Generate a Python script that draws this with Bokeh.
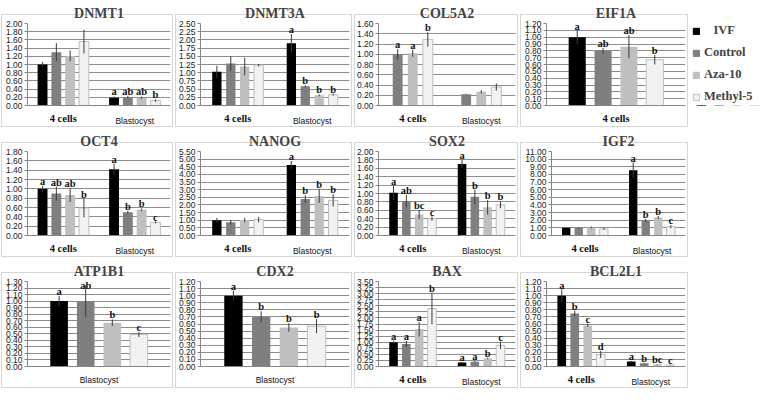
import numpy as np
from bokeh.plotting import figure
from bokeh.models import (FactorRange, Range1d, FixedTicker, NumeralTickFormatter,
                          CategoricalAxis, Legend, LegendItem, ColumnDataSource)
from bokeh.transform import dodge
from bokeh.layouts import row, column
from bokeh.core.properties import value
from bokeh.embed import file_html
from bokeh.resources import INLINE

SERIES = ["IVF", "Control", "Aza-10", "Methyl-5"]
LEG_LABELS = ["\u00a0\u00a0\u00a0IVF", "Control", "Aza-10", "Methyl-5"]
COLORS = ["#000000", "#7f7f7f", "#bfbfbf", "#f2f2f2"]
OUTLINES = [None, None, None, "#bdbdbd"]
CATS_BOTH = ["4 cells", "Blastocyst"]

# ---- data (means, error, significance letters) per gene and stage ----
DNMT1_4C = [1.00, 1.30, 1.21, 1.56]
DNMT1_4C_ERR = [0.06, 0.22, 0.13, 0.29]
DNMT1_4C_LET = ["", "", "", ""]
DNMT1_BL = [0.19, 0.20, 0.19, 0.12]
DNMT1_BL_ERR = [0.03, 0.03, 0.03, 0.03]
DNMT1_BL_LET = ["a", "ab", "ab", "b"]

DNMT3A_4C = [1.03, 1.28, 1.19, 1.23]
DNMT3A_4C_ERR = [0.18, 0.22, 0.27, 0.04]
DNMT3A_4C_LET = ["", "", "", ""]
DNMT3A_BL = [1.90, 0.59, 0.31, 0.33]
DNMT3A_BL_ERR = [0.28, 0.03, 0.03, 0.03]
DNMT3A_BL_LET = ["a", "b", "b", "b"]

COL5A2_4C = [1.00, 1.02, 1.29]           # Control, Aza-10, Methyl-5
COL5A2_4C_ERR = [0.10, 0.07, 0.14]
COL5A2_4C_LET = ["a", "a", "b"]
COL5A2_BL = [0.22, 0.27, 0.36]
COL5A2_BL_ERR = [0.01, 0.03, 0.07]
COL5A2_BL_LET = ["", "", ""]

EIF1A_4C = [1.00, 0.80, 0.86, 0.67]
EIF1A_4C_ERR = [0.10, 0.04, 0.17, 0.07]
EIF1A_4C_LET = ["a", "ab", "ab", "b"]

OCT4_4C = [1.00, 0.90, 0.87, 0.59]
OCT4_4C_ERR = [0.06, 0.15, 0.15, 0.20]
OCT4_4C_LET = ["a", "ab", "ab", "b"]
OCT4_BL = [1.42, 0.50, 0.55, 0.28]
OCT4_BL_ERR = [0.12, 0.03, 0.03, 0.02]
OCT4_BL_LET = ["a", "b", "b", "c"]

NANOG_4C = [1.00, 0.87, 1.01, 1.04]
NANOG_4C_ERR = [0.15, 0.15, 0.15, 0.18]
NANOG_4C_LET = ["", "", "", ""]
NANOG_BL = [4.61, 2.39, 2.58, 2.30]
NANOG_BL_ERR = [0.27, 0.25, 0.45, 0.40]
NANOG_BL_LET = ["a", "b", "b", "b"]

SOX2_4C = [1.02, 0.82, 0.50, 0.40]
SOX2_4C_ERR = [0.17, 0.15, 0.11, 0.05]
SOX2_4C_LET = ["a", "ab", "bc", "c"]
SOX2_BL = [1.70, 0.92, 0.67, 0.73]
SOX2_BL_ERR = [0.10, 0.17, 0.17, 0.08]
SOX2_BL_LET = ["a", "b", "b", "b"]

IGF2_4C = [1.00, 1.00, 1.05, 0.85]
IGF2_4C_ERR = [0.05, 0.08, 0.12, 0.12]
IGF2_4C_LET = ["", "", "", ""]
IGF2_BL = [8.55, 1.96, 2.35, 1.15]
IGF2_BL_ERR = [1.00, 0.20, 0.20, 0.20]
IGF2_BL_LET = ["a", "b", "b", "c"]

ATP1B1_BL = [1.00, 1.00, 0.67, 0.49]
ATP1B1_BL_ERR = [0.08, 0.24, 0.05, 0.04]
ATP1B1_BL_LET = ["a", "ab", "b", "c"]

CDX2_BL = [1.00, 0.70, 0.55, 0.57]
CDX2_BL_ERR = [0.07, 0.08, 0.06, 0.10]
CDX2_BL_LET = ["a", "b", "b", "b"]

BAX_4C = [1.00, 0.93, 1.54, 2.39]
BAX_4C_ERR = [0.06, 0.12, 0.30, 0.65]
BAX_4C_LET = ["a", "a", "a", "b"]
BAX_BL = [0.16, 0.20, 0.33, 0.87]
BAX_BL_ERR = [0.02, 0.03, 0.03, 0.15]
BAX_BL_LET = ["a", "a", "b", "c"]

BCL2L1_4C = [1.00, 0.75, 0.58, 0.17]
BCL2L1_4C_ERR = [0.09, 0.04, 0.02, 0.05]
BCL2L1_4C_LET = ["a", "b", "c", "d"]
BCL2L1_BL = [0.07, 0.045, 0.03, 0.02]
BCL2L1_BL_ERR = [0.01, 0.005, 0.005, 0.005]
BCL2L1_BL_LET = ["a", "b", "bc", "c"]

# y-axis scales (max, step)
Y_AXES = {
    "DNMT1": (2.0, 0.2), "DNMT3A": (2.5, 0.25), "COL5A2": (1.6, 0.2), "EIF1A": (1.2, 0.1),
    "OCT4": (1.8, 0.2), "NANOG": (5.5, 0.5), "SOX2": (2.0, 0.2), "IGF2": (11.0, 1.0),
    "ATP1B1": (1.3, 0.1), "CDX2": (1.2, 0.1), "BAX": (3.5, 0.25), "BCL2L1": (1.2, 0.1),
}

# font, style, size, standoff when it is the first (lined) axis
CAT_FONT = {"4 cells": ("Liberation Serif", "bold", "10.5px", 7),
            "Blastocyst": ("Liberation Sans", "normal", "8.5px", 8)}

GRID = "#8c8c8c"
AXIS = "#868686"
BOX = "#d6d6d6"


def box_styles(bw, h):
    g = f"linear-gradient({BOX},{BOX})"
    return {
        "background-image": ", ".join([g] * 4),
        "background-size": f"{bw - 2}px 1px, {bw - 2}px 1px, 1px {h - 16}px, 1px {h - 16}px",
        "background-position": f"1px 14px, 1px {h - 2}px, 1px 14px, {bw - 2}px 14px",
        "background-repeat": "no-repeat",
    }


def stage_axis(p, name, factors, line, standoff, font, style, size):
    p.extra_x_ranges[name] = FactorRange(*factors)
    ax = CategoricalAxis(x_range_name=name)
    ax.major_label_text_font = font
    ax.major_label_text_font_style = style
    ax.major_label_text_font_size = size
    ax.major_label_text_color = "#111111"
    ax.major_tick_line_color = None
    ax.minor_tick_line_color = None
    ax.major_tick_out = 0
    ax.major_tick_in = 0
    ax.minor_tick_out = 0
    ax.minor_tick_in = 0
    ax.axis_line_color = AXIS if line else None
    ax.major_label_standoff = standoff
    p.add_layout(ax, "below")
    return ax


def make_panel(title, cats, series_idx, means, errs, lets, width, height,
               bar_w, spacing, left):
    ymax, ystep = Y_AXES[title]
    p = figure(width=width, height=height, title=title,
               x_range=FactorRange(*cats), y_range=Range1d(0, ymax),
               output_backend="svg", toolbar_location=None, x_axis_location=None,
               min_border_left=left, min_border_right=4, min_border_top=20,
               min_border_bottom=17, styles=box_styles(width, height))
    p.border_fill_color = None
    p.background_fill_color = None
    p.title.align = "center"
    p.title.text_font = "Liberation Serif"
    p.title.text_font_style = "bold"
    p.title.text_font_size = "14px"
    p.title.standoff = 6
    p.title.offset = 0
    n = len(series_idx)
    for j, k in enumerate(series_idx):
        off = (j - (n - 1) / 2) * spacing
        m = [means[c][j] for c in range(len(cats))]
        e = [errs[c][j] for c in range(len(cats))]
        l = [lets[c][j] for c in range(len(cats))]
        hi = [a + b for a, b in zip(m, e)]
        src = ColumnDataSource(dict(x=cats, top=m,
                                    lo=[a - b for a, b in zip(m, e)],
                                    hi=hi, ly=[min(h, ymax * 0.905) for h in hi], lab=l))
        xd = dodge("x", off, range=p.x_range)
        p.vbar(x=xd, top="top", width=bar_w, source=src, fill_color=COLORS[k],
               line_color=OUTLINES[k], line_width=1)
        p.segment(x0=xd, y0="lo", x1=xd, y1="hi", source=src,
                  line_color="#3a3a3a", line_width=1)
        p.text(x=xd, y="ly", text="lab", source=src, text_align="center",
               text_baseline="bottom", y_offset=1,
               text_font=value("Liberation Serif"), text_font_style="bold",
               text_font_size="10.5px", text_color="#111111")
    ticks = [round(v, 3) for v in np.arange(0, ymax + ystep / 2, ystep)]
    p.yaxis.ticker = FixedTicker(ticks=ticks)
    p.yaxis.formatter = NumeralTickFormatter(format="0.00")
    p.yaxis.major_label_text_font = "Liberation Sans"
    p.yaxis.major_label_text_font_size = "8.5px"
    p.yaxis.major_label_text_color = "#1a1a1a"
    p.yaxis.major_label_standoff = 2
    p.yaxis.major_tick_out = 3
    p.yaxis.major_tick_in = 0
    p.yaxis.minor_tick_line_color = None
    p.yaxis.axis_line_color = AXIS
    p.yaxis.major_tick_line_color = AXIS
    p.ygrid.grid_line_color = GRID
    p.xgrid.grid_line_color = None
    p.outline_line_color = None

    # one category axis per stage (same slots, other slots blank) so each
    # stage label keeps its own font; a final blank spacer axis pulls the
    # bottom border back to min_border_bottom
    blanks = [" " * (i + 1) for i in range(len(cats))]
    for i, c in enumerate(cats):
        f, s, z, so = CAT_FONT[c]
        facs = [c if j == i else blanks[j] for j in range(len(cats))]
        if i == 0:
            stage_axis(p, f"stage{i}", facs, True, so, f, s, z)
        else:
            stage_axis(p, f"stage{i}", facs, False, -11, f, s, z)
    stage_axis(p, "spacer", blanks, False, -40, "Liberation Sans", "normal", "1px")
    return p


ALL4 = [0, 1, 2, 3]
W1, W2, W3, W4, WL = 174, 179, 166, 170, 74
H1, H2, H3 = 128, 130, 131

p1 = make_panel("DNMT1", CATS_BOTH, ALL4, [DNMT1_4C, DNMT1_BL], [DNMT1_4C_ERR, DNMT1_BL_ERR],
                [DNMT1_4C_LET, DNMT1_BL_LET], W1, H1, 0.138, 0.193, 27)
p2 = make_panel("DNMT3A", CATS_BOTH, ALL4, [DNMT3A_4C, DNMT3A_BL], [DNMT3A_4C_ERR, DNMT3A_BL_ERR],
                [DNMT3A_4C_LET, DNMT3A_BL_LET], W2, H1, 0.125, 0.187, 26)
p3 = make_panel("COL5A2", CATS_BOTH, [1, 2, 3], [COL5A2_4C, COL5A2_BL], [COL5A2_4C_ERR, COL5A2_BL_ERR],
                [COL5A2_4C_LET, COL5A2_BL_LET], W3, H1, 0.144, 0.22, 22)
p4 = make_panel("EIF1A", ["4 cells"], ALL4, [EIF1A_4C], [EIF1A_4C_ERR], [EIF1A_4C_LET],
                W4, H1, 0.123, 0.186, 27)

p5 = make_panel("OCT4", CATS_BOTH, ALL4, [OCT4_4C, OCT4_BL], [OCT4_4C_ERR, OCT4_BL_ERR],
                [OCT4_4C_LET, OCT4_BL_LET], W1, H2, 0.138, 0.193, 27)
p6 = make_panel("NANOG", CATS_BOTH, ALL4, [NANOG_4C, NANOG_BL], [NANOG_4C_ERR, NANOG_BL_ERR],
                [NANOG_4C_LET, NANOG_BL_LET], W2, H2, 0.125, 0.187, 26)
p7 = make_panel("SOX2", CATS_BOTH, ALL4, [SOX2_4C, SOX2_BL], [SOX2_4C_ERR, SOX2_BL_ERR],
                [SOX2_4C_LET, SOX2_BL_LET], W3, H2, 0.125, 0.187, 22)
p8 = make_panel("IGF2", CATS_BOTH, ALL4, [IGF2_4C, IGF2_BL], [IGF2_4C_ERR, IGF2_BL_ERR],
                [IGF2_4C_LET, IGF2_BL_LET], W4, H2, 0.125, 0.187, 32)

p9 = make_panel("ATP1B1", ["Blastocyst"], ALL4, [ATP1B1_BL], [ATP1B1_BL_ERR], [ATP1B1_BL_LET],
                W1, H3, 0.123, 0.186, 27)
p10 = make_panel("CDX2", ["Blastocyst"], ALL4, [CDX2_BL], [CDX2_BL_ERR], [CDX2_BL_LET],
                 W2, H3, 0.123, 0.186, 26)
p11 = make_panel("BAX", CATS_BOTH, ALL4, [BAX_4C, BAX_BL], [BAX_4C_ERR, BAX_BL_ERR],
                 [BAX_4C_LET, BAX_BL_LET], W3, H3, 0.125, 0.187, 22)
p12 = make_panel("BCL2L1", CATS_BOTH, ALL4, [BCL2L1_4C, BCL2L1_BL], [BCL2L1_4C_ERR, BCL2L1_BL_ERR],
                 [BCL2L1_4C_LET, BCL2L1_BL_LET], W4, H3, 0.125, 0.187, 27)

# legend panel: one flat proxy bar per series (kept out of view) gives each swatch
lp = figure(width=WL, height=H1, output_backend="svg", toolbar_location=None,
            x_range=FactorRange(*SERIES), y_range=Range1d(1, 2),
            min_border_left=3, min_border_right=0, min_border_bottom=0, min_border_top=0)
lp.axis.visible = False
lp.grid.visible = False
lp.outline_line_color = None
items = []
for k, s in enumerate(SERIES):
    r = lp.vbar(x=[s], top=[0], width=0.5, fill_color=COLORS[k],
                line_color=OUTLINES[k] if OUTLINES[k] else COLORS[k])
    items.append(LegendItem(label=LEG_LABELS[k], renderers=[r]))
leg = Legend(items=items, location="top_left", label_text_font="Liberation Serif",
             label_text_font_style="bold", label_text_font_size="12.5px",
             glyph_width=8, glyph_height=8, spacing=7, label_standoff=4,
             border_line_color=None, background_fill_alpha=0, padding=1, margin=0)
lp.add_layout(leg, "center")

layout = column(row(p1, p2, p3, p4, lp), row(p5, p6, p7, p8), row(p9, p10, p11, p12))

with open("out.html", "w") as f:
    f.write(file_html(layout, INLINE))
